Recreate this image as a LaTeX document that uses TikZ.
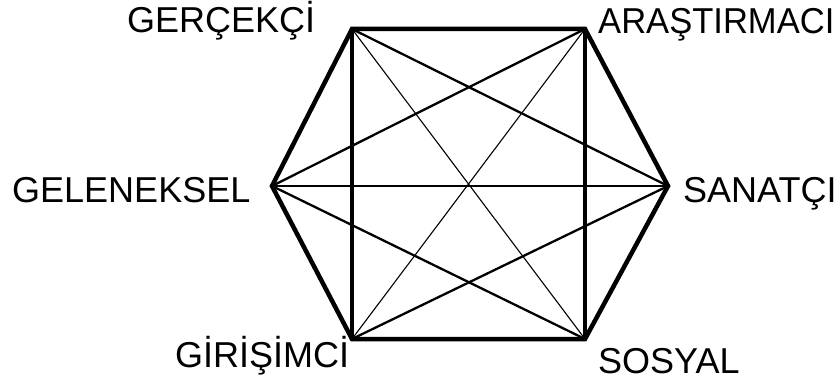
\documentclass[tikz,border=0pt]{standalone}
\usepackage{fontspec}
\setmainfont{Liberation Sans}
\tikzset{
  lbl/.style={inner sep=0pt, font=\fontsize{36}{40}\selectfont},
  thick edge/.style={line width=4.5pt, line join=miter},
  mid edge/.style={line width=2.3pt},
  thin edge/.style={line width=1.1pt}
}
\begin{document}
\begin{tikzpicture}[x=1pt,y=-1pt]
\useasboundingbox (0,0) rectangle (838,385);
\fill[white] (0,0) rectangle (838,385);
\coordinate (R) at (352,29);
\coordinate (I) at (585,29);
\coordinate (A) at (668,186);
\coordinate (S) at (585,339);
\coordinate (E) at (352,339);
\coordinate (C) at (272,186);
% long diagonals (thin)
\draw[thin edge] (R) -- (S);
\draw[thin edge] (I) -- (E);
\draw[thin edge] (C) -- (A);
% medium diagonals
\draw[mid edge] (R) -- (A);
\draw[mid edge] (I) -- (C);
\draw[mid edge] (C) -- (S);
\draw[mid edge] (E) -- (A);
% verticals
\draw[thick edge] (R) -- (E);
\draw[thick edge] (I) -- (S);
% hexagon
\draw[thick edge] (R) -- (I) -- (A) -- (S) -- (E) -- (C) -- cycle;
% labels
\node[lbl, anchor=base west] (lR) at (127,33) {GERÇEKÇİ};
\node[lbl, anchor=base west] (lI) at (598,34) {\scalebox{0.96}[1]{ARAŞTIRMACI}};
\node[lbl, anchor=base west] (lC) at (12,202) {GELENEKSEL};
\node[lbl, anchor=base west] (lA) at (683,202) {SANATÇI};
\node[lbl, anchor=base west] (lE) at (175,367) {GİRİŞİMCİ};
\node[lbl, anchor=base west] (lS) at (598,373) {SOSYAL};
\end{tikzpicture}
\end{document}
